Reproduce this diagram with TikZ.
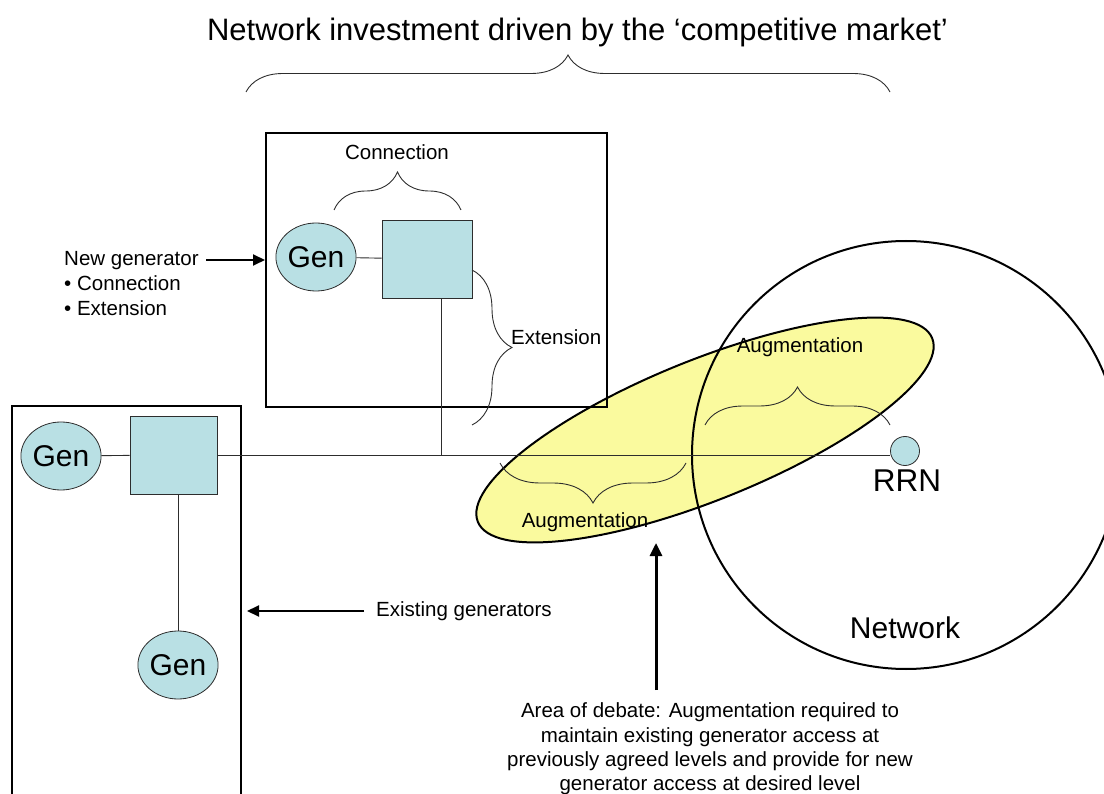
\documentclass[tikz,border=0pt]{standalone}
\usepackage{fontspec}
\setmainfont{Liberation Sans}
\usetikzlibrary{arrows.meta,decorations.pathreplacing,shapes.geometric}
\definecolor{genfill}{RGB}{185,224,228}
\definecolor{augfill}{RGB}{250,250,158}
\definecolor{thinline}{RGB}{45,45,45}
\begin{document}
\begin{tikzpicture}[x=1pt,y=1pt,
  gen/.style={ellipse,draw=thinline,line width=0.8pt,fill=genfill,minimum width=78pt,minimum height=68pt,inner sep=0pt,font=\fontsize{30}{36}\selectfont},
  sub/.style={rectangle,draw=thinline,line width=0.8pt,fill=genfill,inner sep=0pt},
  bigbox/.style={rectangle,draw=black,line width=2pt,inner sep=0pt},
  wire/.style={draw=thinline,line width=0.9pt},
  bracel/.style={draw=thinline,line width=0.9pt,decorate,decoration={brace,amplitude=#1}},
  small/.style={font=\fontsize{20.5}{25}\selectfont,inner sep=0pt},
  large/.style={font=\fontsize{30}{36}\selectfont,inner sep=0pt},
  arr/.style={draw=black,line width=2pt,-{Triangle[length=12pt,width=11pt]}}
]
\useasboundingbox (0,0) rectangle (1104,-794);
\clip (0,0) rectangle (1104,-794);

% augmentation area and network
\draw[line width=2pt,fill=augfill,rotate around={22:(705,-430)}] (705,-430) ellipse[x radius=245,y radius=70];
\draw[line width=2pt] (906,-455) circle[radius=214];

% boxes
\node[bigbox,minimum width=341pt,minimum height=274pt] (newbox) at (436.5,-270) {};
\node[bigbox,minimum width=229pt,minimum height=420pt] (oldbox) at (126.5,-616) {};

% equipment
\node[sub,minimum width=90pt,minimum height=78pt] (sq1) at (427,-259) {};
\node[sub,minimum width=87pt,minimum height=78pt] (sq2) at (173.5,-455) {};
\node[gen] (gen1) at (316,-257) {Gen};
\node[gen] (gen2) at (61,-456) {Gen};
\node[gen] (gen3) at (178,-665) {Gen};
\node[circle,draw=thinline,line width=0.8pt,fill=genfill,minimum size=29pt,inner sep=0pt] (rrn) at (905,-451) {};
\node[large,font=\fontsize{31.5}{36}\selectfont] (rrnlabel) at (907,-481) {RRN};

% wires
\coordinate (j1) at (441,-455);
\draw[wire] (sq2.east) -- (sq2.east -| rrn.west);
\draw[wire] (sq1.south -| j1) -- (j1);
\draw[wire] (gen1) -- (sq1);
\draw[wire] (gen2) -- (sq2);
\draw[wire] (gen3.north) -- (gen3.north |- sq2.south);

% braces
\draw[bracel=37] (246,-92) -- (890,-92);
\draw[bracel=38] (334,-210) -- (461,-210);
\draw[bracel=40] (472,-270) -- (472,-425);
\draw[bracel=38] (705,-425) -- (890,-425);
\draw[bracel=40] (686,-463) -- (500,-463);

% labels
\node[large,font=\fontsize{31}{36}\selectfont] (title) at (577.5,-32) {Network investment driven by the ‘competitive market’};
\node[small] (conn) at (397,-152) {Connection};
\node[small,anchor=west] (ext) at (511,-337) {Extension};
\node[small] (aug1) at (800,-347) {Augmentation};
\node[small] (aug2) at (585,-522) {Augmentation};
\node[small,align=left,anchor=west] (newgen) at (64,-283.5) {New generator\\• Connection\\• Extension};
\node[small,anchor=west] (exist) at (376,-611) {Existing generators};
\node[large] (netlabel) at (905,-628) {Network};
\node[small,align=center,font=\fontsize{20.5}{24.4}\selectfont] (debate) at (710,-749) {Area of debate: Augmentation required to\\maintain existing generator access at\\previously agreed levels and provide for new\\generator access at desired level};

% arrows
\coordinate (a1) at (206,-260);
\draw[arr] (a1) -- (a1 -| newbox.west);
\coordinate (a2) at (364,-611);
\draw[arr,shorten >=5pt] (a2) -- (a2 -| oldbox.east);
\coordinate (a3) at (656,-543);
\coordinate (a3b) at (656,-690);
\draw[arr,line width=3pt,-{Triangle[length=13pt,width=12pt]}] (a3b) -- (a3);
\end{tikzpicture}
\end{document}
